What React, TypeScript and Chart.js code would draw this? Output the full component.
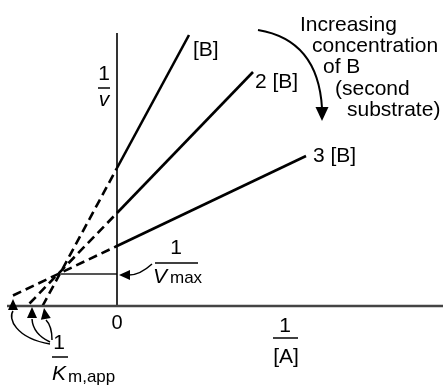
import React, { useEffect, useRef } from "react";
import { Chart, registerables } from "chart.js";

Chart.register(...registerables);

// Lineweaver–Burk style plot: 1/v versus 1/[A] at three concentrations of B
const seriesNames = ["[B]", "2 [B]", "3 [B]"];
// measured (solid) parts: from the 1/v intercept up to the last point
const solidB1 = [{ x: 0, y: 2.76 }, { x: 1.44, y: 5.42 }];
const solidB2 = [{ x: 0, y: 1.86 }, { x: 2.72, y: 4.68 }];
const solidB3 = [{ x: 0, y: 1.2 }, { x: 3.78, y: 3.0 }];
// extrapolated (dashed) parts back towards the -1/Km,app intercepts
const dashB1 = [{ x: -1.49, y: 0 }, { x: 0, y: 2.76 }];
const dashB2 = [{ x: -1.75, y: 0.05 }, { x: 0, y: 1.86 }];
const dashB3 = [{ x: -2.08, y: 0.21 }, { x: 0, y: 1.2 }];
// common crossing point -> 1/Vmax
const vmaxLine = [{ x: -1.14, y: 0.64 }, { x: 0, y: 0.64 }];
// axes
const yAxisLine = [{ x: 0, y: 0 }, { x: 0, y: 5.46 }];
const xAxisLine = [{ x: -2.2, y: 0 }, { x: 6.52, y: 0 }];

const FONT = '"Liberation Sans", Arial, Helvetica, sans-serif';

const annotationPlugin = {
  id: "annots",
  afterDatasetsDraw(chart: any) {
    const ctx = chart.ctx as CanvasRenderingContext2D;
    const sx = chart.scales.x;
    const sy = chart.scales.y;
    const X = (v: number) => sx.getPixelForValue(v);
    const Y = (v: number) => sy.getPixelForValue(v);
    ctx.save();
    ctx.fillStyle = "#000";
    ctx.strokeStyle = "#000";

    const text = (s: string, x: number, y: number, size = 21, align: CanvasTextAlign = "left", style = "") => {
      ctx.font = `${style} ${size}px ${FONT}`.trim();
      ctx.textAlign = align;
      ctx.textBaseline = "alphabetic";
      ctx.fillText(s, X(x), Y(y));
    };
    const bar = (x1: number, x2: number, y: number) => {
      ctx.beginPath();
      ctx.lineWidth = 1.5;
      ctx.moveTo(X(x1), Y(y));
      ctx.lineTo(X(x2), Y(y));
      ctx.stroke();
    };
    const head = (fx: number, fy: number, tx: number, ty: number, len = 12, half = 5.5) => {
      const x0 = X(fx), y0 = Y(fy), x1 = X(tx), y1 = Y(ty);
      const a = Math.atan2(y1 - y0, x1 - x0);
      const bx = x1 - len * Math.cos(a), by = y1 - len * Math.sin(a);
      ctx.beginPath();
      ctx.moveTo(x1, y1);
      ctx.lineTo(bx + half * Math.sin(a), by - half * Math.cos(a));
      ctx.lineTo(bx - half * Math.sin(a), by + half * Math.cos(a));
      ctx.closePath();
      ctx.fill();
    };

    // series labels
    text(seriesNames[0], 1.52, 5.0);
    text(seriesNames[1], 2.76, 4.36);
    text(seriesNames[2], 3.92, 2.88);

    // explanatory block
    text("Increasing", 3.66, 5.5);
    text("concentration", 3.9, 5.08);
    text("of B", 4.12, 4.66);
    text("(second", 4.36, 4.22);
    text("substrate)", 4.6, 3.8);

    // big curved arrow
    ctx.lineWidth = 2;
    ctx.beginPath();
    ctx.moveTo(X(2.82), Y(5.52));
    ctx.quadraticCurveTo(X(4.02), Y(5.32), X(4.1), Y(3.96));
    ctx.stroke();
    head(4.1, 3.96, 4.1, 3.7, 14, 6.5);

    // 1/v
    text("1", -0.26, 4.52, 21, "center");
    bar(-0.38, -0.14, 4.36);
    text("v", -0.26, 4.0, 21, "center", "italic");

    // 1/Vmax
    text("1", 1.18, 1.04, 21, "center");
    bar(0.76, 1.62, 0.86);
    text("V", 0.72, 0.46, 21, "left", "italic");
    text("max", 1.06, 0.46, 17, "left");
    ctx.lineWidth = 1.5;
    ctx.beginPath();
    ctx.moveTo(X(0.7), Y(0.84));
    ctx.quadraticCurveTo(X(0.46), Y(0.62), X(0.24), Y(0.62));
    ctx.stroke();
    head(0.24, 0.62, 0.04, 0.62, 11, 5);

    // origin
    text("0", 0, -0.46, 20, "center");

    // 1/[A]
    text("1", 3.36, -0.52, 21, "center");
    bar(3.12, 3.62, -0.64);
    text("[A]", 3.38, -1.14, 21, "center");

    // 1/Km,app
    text("1", -1.16, -0.86, 21, "center");
    bar(-1.3, -0.98, -1.02);
    text("K", -1.3, -1.48, 21, "left", "italic");
    text("m,app", -0.98, -1.52, 17, "left");

    ctx.lineWidth = 1.5;
    ctx.beginPath();
    ctx.moveTo(X(-1.34), Y(-0.76));
    ctx.bezierCurveTo(X(-2.04), Y(-0.64), X(-2.18), Y(-0.24), X(-2.08), Y(-0.1));
    ctx.stroke();
    head(-2.08, -0.1, -2.08, 0.14, 11, 5);

    ctx.beginPath();
    ctx.moveTo(X(-1.34), Y(-0.72));
    ctx.quadraticCurveTo(X(-1.68), Y(-0.56), X(-1.7), Y(-0.26));
    ctx.stroke();
    head(-1.7, -0.26, -1.7, -0.02, 11, 5);

    ctx.beginPath();
    ctx.moveTo(X(-1.3), Y(-0.68));
    ctx.quadraticCurveTo(X(-1.3), Y(-0.4), X(-1.42), Y(-0.28));
    ctx.stroke();
    head(-1.42, -0.28, -1.46, -0.04, 11, 5);

    ctx.restore();
  },
};

export default function App() {
  const ref = useRef<HTMLCanvasElement | null>(null);
  useEffect(() => {
    document.body.style.margin = "0";
    const mk = (data: any[], color: string, width: number, dash: number[] = []) => ({
      data,
      borderColor: color,
      backgroundColor: color,
      borderWidth: width,
      borderDash: dash,
      pointRadius: 0,
      showLine: true,
      fill: false,
      tension: 0,
      borderCapStyle: "butt" as const,
    });
    const chart = new Chart(ref.current as HTMLCanvasElement, {
      type: "scatter",
      data: {
        datasets: [
          mk(xAxisLine, "#444", 2.5),
          mk(yAxisLine, "#000", 1.6),
          mk(vmaxLine, "#555", 2),
          mk(solidB1, "#000", 2.6),
          mk(solidB2, "#000", 2.6),
          mk(solidB3, "#000", 2.6),
          mk(dashB1, "#000", 2.6, [9, 5]),
          mk(dashB2, "#000", 2.6, [9, 5]),
          mk(dashB3, "#000", 2.6, [9, 5]),
        ],
      },
      options: {
        animation: false,
        responsive: true,
        maintainAspectRatio: false,
        layout: { padding: 0 },
        plugins: { legend: { display: false }, tooltip: { enabled: false } },
        events: [],
        scales: {
          x: { type: "linear", min: -2.34, max: 6.52, display: false },
          y: { type: "linear", min: -1.58, max: 6.12, display: false },
        },
      },
      plugins: [annotationPlugin],
    });
    return () => chart.destroy();
  }, []);
  return (
    <div style={{ width: 443, height: 385, position: "relative", background: "#fff" }}>
      <canvas ref={ref} />
    </div>
  );
}
